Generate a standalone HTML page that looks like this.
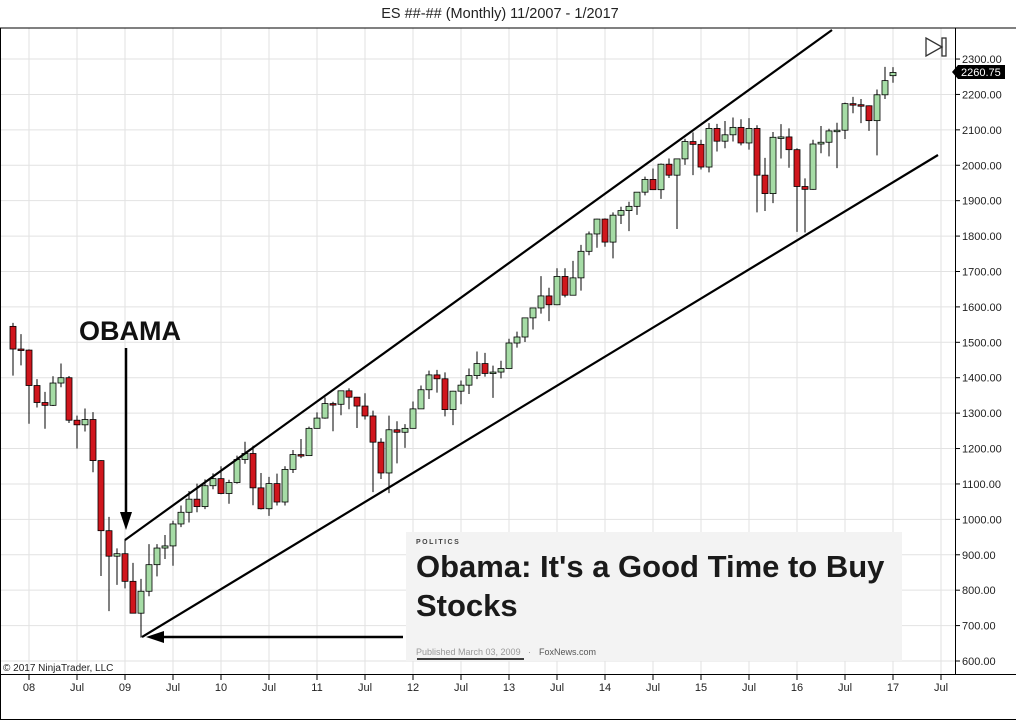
<!DOCTYPE html>
<html><head><meta charset="utf-8"><style>
html,body{margin:0;padding:0;background:#fff;}
svg{display:block;font-family:"Liberation Sans",Arial,sans-serif;}
</style></head><body>
<svg id="s" width="1016" height="720" viewBox="0 0 1016 720" xmlns="http://www.w3.org/2000/svg">
<rect width="1016" height="720" fill="#fff"/>
<text x="500" y="18" font-size="14.5" text-anchor="middle" fill="#222">ES ##-## (Monthly)  11/2007 - 1/2017</text>
<g id="grid" stroke="#e2e2e2" stroke-width="1"></g>
<g id="candles"></g>
<line x1="125" y1="540" x2="832" y2="30" stroke="#000" stroke-width="2.2"/>
<line x1="142" y1="637" x2="938" y2="155" stroke="#000" stroke-width="2.2"/>
<rect x="406" y="532" width="496" height="129" fill="#f3f3f3"/>
<text x="416" y="544" font-size="7" font-weight="bold" letter-spacing="1.5" fill="#444">POLITICS</text>
<text x="416" y="577" font-size="31" font-weight="bold" fill="#1a1a1a">Obama: It's a Good Time to Buy</text>
<text x="416" y="616" font-size="31" font-weight="bold" fill="#1a1a1a">Stocks</text>
<text x="416" y="655" font-size="9" fill="#999">Published March 03, 2009</text>
<text x="528" y="655" font-size="9" fill="#999">·</text>
<text x="539" y="655" font-size="9" fill="#555">FoxNews.com</text>
<line x1="417" y1="659" x2="524" y2="659" stroke="#000" stroke-width="1.5"/>
<line x1="403" y1="637" x2="160" y2="637" stroke="#000" stroke-width="2.5"/>
<polygon points="146,637 164,631 164,643" fill="#000"/>
<line x1="126" y1="348" x2="126" y2="515" stroke="#000" stroke-width="2.5"/>
<polygon points="126,530 120,512 132,512" fill="#000"/>
<text x="79" y="340" font-size="27" font-weight="bold" fill="#111">OBAMA</text>
<line x1="0" y1="28" x2="1016" y2="28" stroke="#000"/>
<line x1="0.5" y1="28" x2="0.5" y2="720" stroke="#000"/>
<line x1="955.5" y1="28" x2="955.5" y2="674" stroke="#000"/>
<line x1="0" y1="674.5" x2="1016" y2="674.5" stroke="#000"/>
<line x1="0" y1="719.5" x2="1016" y2="719.5" stroke="#000"/>
<g id="yt" font-size="11" fill="#222"></g>
<g id="xt" font-size="11" fill="#222" text-anchor="middle"></g>
<text x="3" y="671" font-size="10" fill="#222">© 2017 NinjaTrader, LLC</text>
<polygon points="926,38 926,56 942,47" fill="none" stroke="#333" stroke-width="1.3"/>
<rect x="942" y="38" width="4" height="18" fill="none" stroke="#333" stroke-width="1.3"/>
<polygon points="952,72 958,65 1005,65 1005,79 958,79" fill="#000"/>
<text x="961" y="76" font-size="11" fill="#fff">2260.75</text>
</svg>
<script>
var NS="http://www.w3.org/2000/svg";
function el(t,a,p){var e=document.createElementNS(NS,t);for(var k in a)e.setAttribute(k,a[k]);document.getElementById(p).appendChild(e);return e;}
function y(p){return 661-(p-600)*0.3541;}
for(var p=600;p<=2300;p+=100){var yy=y(p);
 el("line",{x1:0,y1:yy,x2:955,y2:yy},"grid");
 el("line",{x1:955,y1:yy,x2:960,y2:yy,stroke:"#000"},"yt");
 var t=el("text",{x:962,y:yy+4},"yt");t.textContent=p.toFixed(2);}
var xl=["08","Jul","09","Jul","10","Jul","11","Jul","12","Jul","13","Jul","14","Jul","15","Jul","16","Jul","17","Jul"];
for(var i=0;i<xl.length;i++){var xx=29+i*48;
 el("line",{x1:xx,y1:28,x2:xx,y2:674},"grid");
 el("line",{x1:xx,y1:674,x2:xx,y2:680,stroke:"#000"},"xt");
 var t=el("text",{x:xx,y:691},"xt");t.textContent=xl[i];}
var d=[[1545,1555,1406,1481],[1481,1523,1435,1478],
[1478,1480,1270,1378],[1378,1396,1316,1330],[1330,1360,1256,1322],[1322,1404,1320,1385],[1385,1440,1373,1400],[1400,1405,1272,1280],[1280,1293,1200,1267],[1267,1313,1248,1282],[1282,1303,1133,1166],[1166,1167,840,968],[968,1007,741,896],[896,918,815,903],
[903,944,805,825],[825,877,734,735],[735,832,666,797],[797,930,783,872],[872,930,839,919],[919,956,888,925],[925,996,869,987],[987,1039,978,1020],[1020,1080,991,1057],[1057,1101,1020,1036],[1036,1113,1029,1095],[1095,1130,1085,1115],
[1115,1150,1071,1073],[1073,1112,1044,1104],[1104,1180,1101,1169],[1169,1219,1157,1186],[1186,1208,1040,1089],[1089,1131,1028,1030],[1030,1120,1010,1101],[1101,1129,1039,1049],[1049,1150,1039,1141],[1141,1196,1131,1183],[1183,1227,1173,1180],[1180,1262,1180,1257],
[1257,1302,1257,1286],[1286,1344,1284,1327],[1327,1332,1249,1325],[1325,1364,1294,1363],[1363,1370,1311,1345],[1345,1346,1258,1320],[1320,1356,1282,1292],[1292,1307,1077,1218],[1218,1229,1114,1131],[1131,1293,1074,1253],[1253,1277,1158,1246],[1246,1269,1202,1257],
[1257,1333,1257,1312],[1312,1378,1312,1366],[1366,1420,1340,1408],[1408,1422,1358,1397],[1397,1415,1291,1310],[1310,1363,1266,1362],[1362,1392,1325,1379],[1379,1426,1354,1406],[1406,1474,1396,1440],[1440,1470,1403,1412],[1412,1434,1343,1416],[1416,1448,1398,1426],
[1426,1510,1426,1498],[1498,1530,1485,1515],[1515,1570,1501,1569],[1569,1597,1536,1597],[1597,1687,1581,1631],[1631,1654,1560,1606],[1606,1709,1605,1686],[1686,1709,1627,1633],[1633,1730,1633,1682],[1682,1775,1646,1757],[1757,1813,1746,1806],[1806,1849,1767,1848],
[1848,1850,1770,1783],[1783,1867,1737,1859],[1859,1883,1834,1872],[1872,1897,1814,1884],[1884,1924,1860,1924],[1924,1968,1915,1960],[1960,1991,1930,1931],[1931,2005,1905,2003],[2003,2019,1964,1972],[1972,2018,1820,2018],[2018,2075,2001,2067],[2067,2093,1972,2059],
[2059,2072,1988,1995],[1995,2119,1980,2104],[2104,2117,2039,2068],[2068,2125,2048,2086],[2086,2135,2067,2107],[2107,2130,2056,2063],[2063,2133,2044,2104],[2104,2113,1867,1972],[1972,2021,1871,1920],[1920,2094,1893,2079],[2079,2116,2019,2080],[2080,2104,1993,2044],
[2044,2048,1812,1940],[1940,1963,1810,1932],[1932,2072,1931,2060],[2060,2111,2034,2065],[2065,2103,2025,2097],[2097,2120,1992,2099],[2099,2177,2074,2174],[2174,2193,2147,2171],[2171,2187,2119,2168],[2168,2169,2097,2126],[2126,2214,2028,2199],[2199,2278,2187,2239],
[2253,2277,2233,2262]];
for(var i=0;i<d.length;i++){var c=d[i],x=13+i*8;
 el("line",{x1:x,y1:y(c[1]),x2:x,y2:y(c[2]),stroke:"#000","stroke-width":1},"candles");
 var up=c[3]>=c[0],t=y(Math.max(c[0],c[3])),b=y(Math.min(c[0],c[3]));
 el("rect",{x:x-3,y:t,width:6,height:Math.max(1.5,b-t),fill:up?"#a6dca6":"#d0161d",stroke:"#000","stroke-width":0.8},"candles");}
</script>
</body></html>
